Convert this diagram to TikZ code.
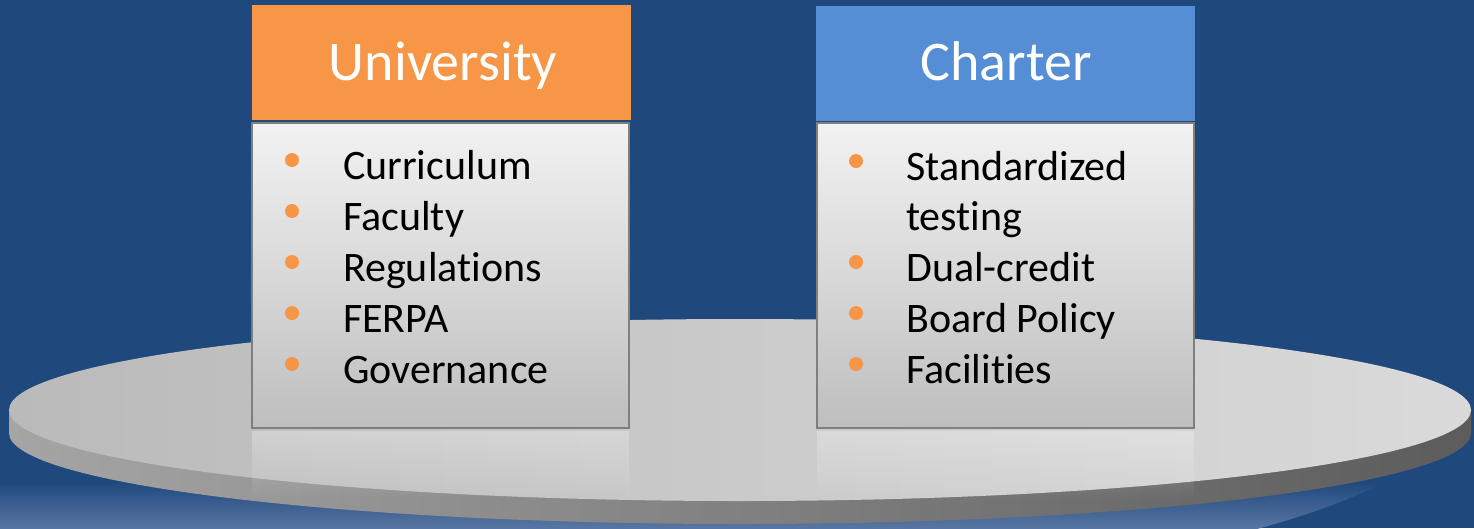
\documentclass[tikz,border=0pt]{standalone}
\usepackage{fontspec}
\setmainfont{Carlito}[Ligatures={NoCommon}]
\usetikzlibrary{fadings}
\definecolor{bg}{RGB}{31,73,125}
\definecolor{refl}{RGB}{88,118,163}
\definecolor{uorange}{RGB}{247,150,70}
\definecolor{cblue}{RGB}{85,142,213}
\definecolor{sideL}{RGB}{165,165,165}
\definecolor{sideR}{RGB}{92,92,92}
\definecolor{topL}{RGB}{186,186,186}
\definecolor{topR}{RGB}{218,218,218}
\definecolor{boxT}{RGB}{242,242,242}
\definecolor{boxB}{RGB}{190,190,190}
\definecolor{boxline}{RGB}{127,127,127}
\tikzset{
  hdr/.style={rectangle, draw=none, inner sep=0pt, minimum width=379pt, minimum height=115pt},
  hdrtext/.style={anchor=base, inner sep=0pt, text=white, font=\fontsize{56}{66}\selectfont},
  listbox/.style={rectangle, draw=boxline, line width=2.5pt, inner sep=0pt, minimum width=377pt, minimum height=305pt, top color=boxT, bottom color=boxB},
  bul/.style={circle, fill=uorange, draw=none, inner sep=0pt, minimum size=14pt},
  item/.style={anchor=base west, inner sep=0pt, text=black, font=\fontsize{42}{50}\selectfont},
  refbox/.style={fill=white, fill opacity=0.28, path fading=south},
}
\begin{document}
\begin{tikzpicture}[x=1pt,y=-1pt]
\fill[bg] (0,0) rectangle (1474,528);
\useasboundingbox (0,0) rectangle (1474,528);
% floor reflection
\begin{scope}
  \clip (600,400) ellipse[x radius=860, y radius=200];
  \shade[top color=bg, bottom color=refl] (0,482) rectangle (1474,528);
\end{scope}
% platform side
\shade[left color=sideL, right color=sideR] (9,410) -- (9,433) arc[start angle=180, end angle=0, x radius=731, y radius=91] -- (1471,410) -- cycle;
% platform top
\shade[left color=topL, right color=topR] (740,410) ellipse[x radius=731, y radius=91];
% box reflections
\fill[refbox] (252,431) rectangle (629,500);
\fill[refbox] (817,431) rectangle (1194,500);
% headers
\node[hdr, fill=uorange] (uhead) at (441.5,62.5) {};
\node[hdrtext] (utitle) at (443,80) {University};
\node[hdr, fill=cblue] (chead) at (1005.5,63.5) {};
\node[hdrtext] (ctitle) at (1006,80) {Charter};
% list boxes
\node[listbox] (ubox) at (440.5,275.5) {};
\node[listbox] (cbox) at (1005.5,275.5) {};
% University items
\node[bul] (ub1) at (292,160) {};
\node[bul] (ub2) at (292,211) {};
\node[bul] (ub3) at (292,262) {};
\node[bul] (ub4) at (292,313) {};
\node[bul] (ub5) at (292,364) {};
\node[item] (ut1) at (343,179) {Curriculum};
\node[item] (ut2) at (343,230) {Faculty};
\node[item] (ut3) at (343,281) {Regulations};
\node[item] (ut4) at (343,332) {FERPA};
\node[item] (ut5) at (343,383) {Governance};
% Charter items
\node[bul] (cb1) at (856,161) {};
\node[bul] (cb2) at (856,262) {};
\node[bul] (cb3) at (856,313) {};
\node[bul] (cb4) at (856,364) {};
\node[item] (ct1) at (906,180) {Standardized};
\node[item] (ct2) at (906,230) {testing};
\node[item] (ct3) at (906,281) {Dual-credit};
\node[item] (ct4) at (906,332) {Board Policy};
\node[item] (ct5) at (906,383) {Facilities};
\end{tikzpicture}
\end{document}
